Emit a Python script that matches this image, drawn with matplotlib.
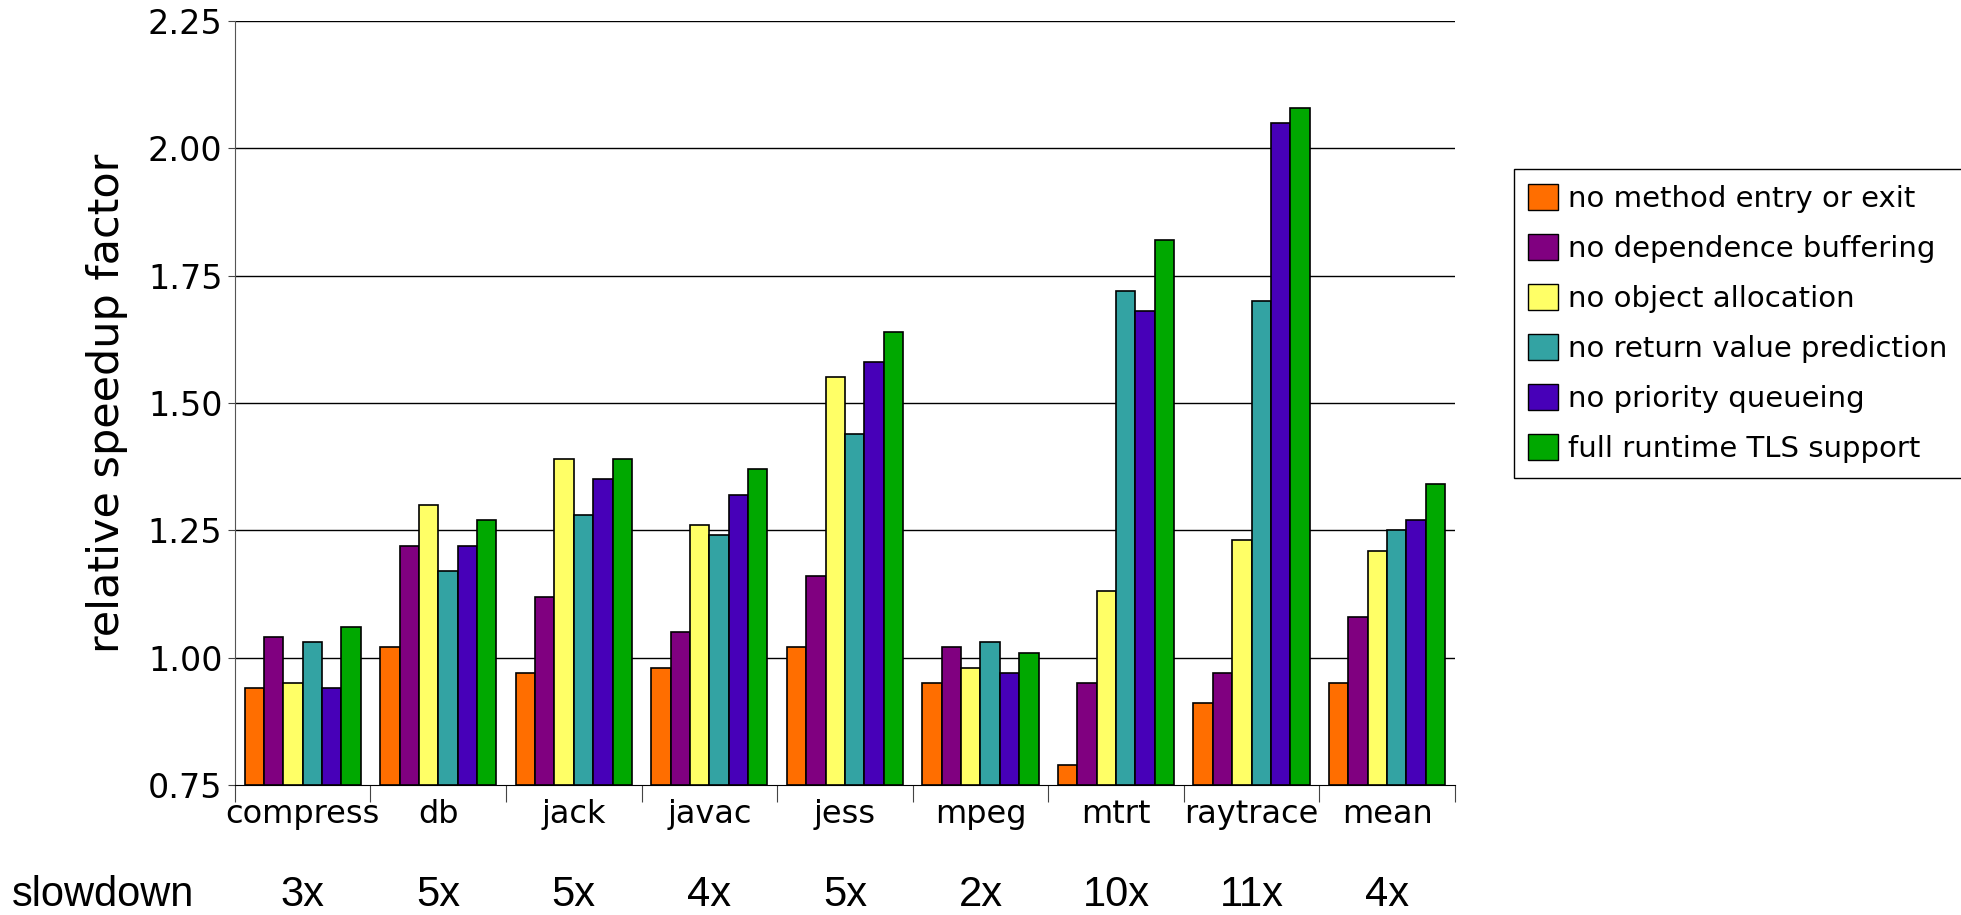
import numpy as np
import matplotlib
matplotlib.use('Agg')
import matplotlib.pyplot as plt
from matplotlib.patches import Patch

benchmarks = ['compress', 'db', 'jack', 'javac', 'jess', 'mpeg', 'mtrt', 'raytrace', 'mean']
slowdown = ['3x', '5x', '5x', '4x', '5x', '2x', '10x', '11x', '4x']

series = ['no method entry or exit', 'no dependence buffering', 'no object allocation',
          'no return value prediction', 'no priority queueing', 'full runtime TLS support']
colors = ['#ff6e00', '#800080', '#ffff66', '#33a3a3', '#4700b8', '#00a800']

no_method = [0.94, 1.02, 0.97, 0.98, 1.02, 0.95, 0.79, 0.91, 0.95]
no_dep_buf = [1.04, 1.22, 1.12, 1.05, 1.16, 1.02, 0.95, 0.97, 1.08]
no_obj_alloc = [0.95, 1.30, 1.39, 1.26, 1.55, 0.98, 1.13, 1.23, 1.21]
no_rvp = [1.03, 1.17, 1.28, 1.24, 1.44, 1.03, 1.72, 1.70, 1.25]
no_prio = [0.94, 1.22, 1.35, 1.32, 1.58, 0.97, 1.68, 2.05, 1.27]
full_tls = [1.06, 1.27, 1.39, 1.37, 1.64, 1.01, 1.82, 2.08, 1.34]
values = [no_method, no_dep_buf, no_obj_alloc, no_rvp, no_prio, full_tls]

base = 0.75
fig = plt.figure(figsize=(19.61, 9.15), dpi=100)
ax = fig.add_axes([0.1198, 0.1421, 0.6221, 0.835])

n = len(benchmarks)
w = 1.0 / 7
centers = np.arange(n) + 0.5
for i, vals in enumerate(values):
    vals = np.array(vals)
    x = centers + (i - 2.5) * w
    ax.bar(x, vals - base, width=w, bottom=base, color=colors[i],
           edgecolor='black', linewidth=1.2, zorder=3, label=series[i])

ax.set_xlim(0, n)
ax.set_ylim(0.75, 2.25)
yt = [0.75, 1.0, 1.25, 1.5, 1.75, 2.0, 2.25]
ax.set_yticks(yt)
ax.set_yticklabels(['%.2f' % v for v in yt], fontsize=24)
for v in yt[1:]:
    ax.axhline(v, color='black', linewidth=1.0, zorder=1)

ax.set_xticks(np.arange(n + 1))
ax.set_xticklabels([])
ax.set_xticks(centers, minor=True)
ax.set_xticklabels(benchmarks, minor=True, fontsize=23)
ax.tick_params(axis='x', which='major', length=12, direction='out', color='#444444')
ax.tick_params(axis='x', which='minor', length=0, pad=10)
ax.tick_params(axis='y', length=5, direction='out', color='#444444', pad=4)

for s in ['top', 'right']:
    ax.spines[s].set_visible(False)
ax.spines['left'].set_color('#555555')
ax.spines['bottom'].set_color('black')

ax.set_ylabel('relative speedup factor', fontsize=31, labelpad=14)

fig.text(12 / 1961, 0.022, 'slowdown', fontsize=30, family='Liberation Sans',
         ha='left', va='center')
for c, s in zip(centers, slowdown):
    xf = fig.transFigure.inverted().transform(ax.transData.transform((c, 0)))[0]
    fig.text(xf, 0.022, s, fontsize=30, family='Liberation Sans', ha='center', va='center')

handles = [Patch(facecolor=colors[i], edgecolor='black', label=series[i]) for i in range(6)]
leg = fig.legend(handles=handles, loc='upper left', bbox_to_anchor=(0.772, 0.815),
                 bbox_transform=fig.transFigure, fontsize=21, frameon=True, fancybox=False,
                 edgecolor='black', framealpha=1, borderaxespad=0, handlelength=1.0,
                 handleheight=1.0, handletextpad=0.35, labelspacing=0.72, borderpad=0.5)
leg.get_frame().set_linewidth(1.0)

fig.savefig('out.png', dpi=100)
